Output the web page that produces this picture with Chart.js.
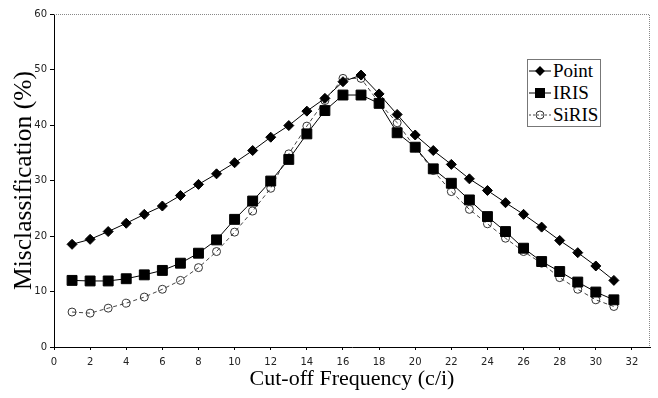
<!DOCTYPE html>
<html>
<head>
<meta charset="utf-8">
<script src="https://cdn.jsdelivr.net/npm/chart.js@4.4.1/dist/chart.umd.min.js"></script>
<style>
  html,body{margin:0;padding:0;background:#fff;}
  #wrap{position:relative;width:658px;height:398px;}
  #lg{position:absolute;left:527px;top:59px;width:72px;height:66px;border:1px solid #777;background:#fff;
      font-family:"Liberation Serif","Times New Roman",serif;font-size:19px;color:#000;}
  .lg-row{position:absolute;left:0;height:22px;line-height:22px;white-space:nowrap;}
  .lg-row svg{position:absolute;left:1px;top:3px;}
  .lg-row span{position:absolute;left:25px;top:0;}
</style>
</head>
<body>
<div id="wrap"><canvas id="c"></canvas><div id="lg"></div></div>
<script>
// ---- data ----
const freq=[1,2,3,4,5,6,7,8,9,10,11,12,13,14,15,16,17,18,19,20,21,22,23,24,25,26,27,28,29,30,31];
const pointVals=[18.5,19.4,20.8,22.3,23.9,25.4,27.3,29.3,31.2,33.2,35.4,37.8,39.9,42.5,44.8,47.8,49.0,45.6,41.9,38.2,35.4,32.9,30.3,28.2,26.0,23.9,21.6,19.2,17.0,14.6,12.0];
const irisVals=[12.0,11.9,11.9,12.3,13.0,13.8,15.1,16.9,19.3,23.0,26.3,29.9,33.8,38.4,42.6,45.4,45.4,43.9,38.6,36.0,32.1,29.5,26.5,23.5,20.8,17.8,15.4,13.6,11.7,9.9,8.5];
const sirisVals=[6.3,6.1,7.0,7.9,9.0,10.4,12.0,14.3,17.2,20.7,24.5,28.6,34.8,39.8,44.4,48.4,48.4,44.0,40.4,35.9,31.8,28.0,24.8,22.2,19.6,17.2,15.1,12.5,10.4,8.5,7.3];
const seriesNames=["Point","IRIS","SiRIS"];

const xy=v=>v.map((y,i)=>({x:freq[i],y}));
const tickFont={family:"DejaVu Sans, Verdana, sans-serif",size:10};
const serif="Liberation Serif, Times New Roman, serif";

// dotted top/right frame like the original
const frame={id:"frame",afterDraw(ch){
  const a=ch.chartArea,c=ch.ctx;
  c.save();c.strokeStyle="#888";c.lineWidth=1;c.setLineDash([1,1]);
  c.beginPath();c.moveTo(a.left,a.top+0.5);c.lineTo(a.right-0.5,a.top+0.5);c.lineTo(a.right-0.5,a.bottom);c.stroke();
  c.restore();
}};

new Chart(document.getElementById("c"),{
  type:"line",
  data:{datasets:[
    {label:seriesNames[0],data:xy(pointVals),borderColor:"#000",borderWidth:1,pointStyle:"rectRot",pointRadius:5,
     pointBackgroundColor:"#000",pointBorderColor:"#000",pointBorderWidth:1,tension:0},
    {label:seriesNames[1],data:xy(irisVals),borderColor:"#000",borderWidth:1,pointStyle:"rect",pointRadius:7,
     pointBackgroundColor:"#000",pointBorderColor:"#000",pointBorderWidth:1,tension:0},
    {label:seriesNames[2],data:xy(sirisVals),borderColor:"#444",borderWidth:1,borderDash:[4,3],pointStyle:"circle",pointRadius:4,
     pointBackgroundColor:"rgba(255,255,255,0)",pointBorderColor:"#333",pointBorderWidth:1,tension:0}
  ]},
  options:{
    responsive:true,maintainAspectRatio:false,animation:false,
    layout:{padding:{top:14,right:8,left:0,bottom:0}},
    plugins:{legend:{display:false},tooltip:{enabled:false}},
    scales:{
      x:{type:"linear",min:0,max:33,
        ticks:{stepSize:2,includeBounds:false,color:"#222",font:tickFont,padding:6,maxRotation:0},
        grid:{drawOnChartArea:false,tickLength:3,color:"#000"},
        border:{color:"#000",width:1},
        title:{display:true,text:"Cut-off Frequency (c/i)",color:"#000",font:{family:serif,size:22},padding:{top:0,bottom:6}},
        afterFit:s=>{s.height=51;}
      },
      y:{min:0,max:60,
        ticks:{stepSize:10,color:"#222",font:tickFont,padding:3},
        grid:{drawOnChartArea:false,tickLength:4,color:"#000"},
        border:{color:"#000",width:1},
        title:{display:true,text:"Misclassification (%)",color:"#000",font:{family:serif,size:25.5},padding:{top:9,bottom:0}},
        afterFit:s=>{s.width=54;}
      }
    }
  },
  plugins:[frame]
});

// legend (line + marker samples)
const sym=[
  '<svg width="22" height="16"><line x1="0" y1="8" x2="22" y2="8" stroke="#000"/><rect x="7.5" y="4.5" width="7" height="7" transform="rotate(45 11 8)" fill="#000"/></svg>',
  '<svg width="22" height="16"><line x1="0" y1="8" x2="22" y2="8" stroke="#000"/><rect x="6" y="3" width="10" height="10" fill="#000"/></svg>',
  '<svg width="22" height="16"><line x1="0" y1="8" x2="22" y2="8" stroke="#444" stroke-dasharray="2,2"/><circle cx="11" cy="8" r="4" fill="none" stroke="#333"/></svg>'
];
const lg=document.getElementById("lg");
seriesNames.forEach((n,i)=>{
  const r=document.createElement("div");r.className="lg-row";r.style.top=(i*22)+"px";
  r.innerHTML=sym[i]+'<span>'+n+'</span>';lg.appendChild(r);
});
</script>
</body>
</html>
